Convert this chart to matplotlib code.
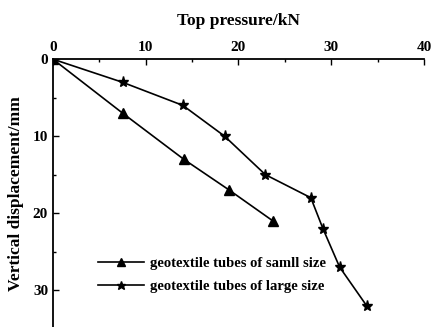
import matplotlib.pyplot as plt

plt.rcParams['font.family'] = 'Liberation Serif'
plt.rcParams['font.weight'] = 'bold'

small_x = [0, 7.5, 14.1, 19.0, 23.7]
small_y = [0, 7, 13, 17, 21]
large_x = [0, 7.5, 14.0, 18.5, 22.9, 27.8, 29.1, 30.9, 33.8]
large_y = [0, 3, 6, 10, 15, 18, 22, 27, 32]

fig = plt.figure(figsize=(4.34, 3.27), dpi=100)
ax = fig.add_axes([0.122, -0.005, 0.855, 0.824])

ax.plot(small_x, small_y, color='black', lw=1.2, marker='^', ms=7,
        label='geotextile tubes of samll size')
ax.plot(large_x, large_y, color='black', lw=1.2, marker='*', ms=8,
        label='geotextile tubes of large size')

ax.set_xlim(0, 40)
ax.set_ylim(35, 0)
ax.xaxis.tick_top()
ax.xaxis.set_label_position('top')
ax.set_xticks([0, 10, 20, 30, 40])
ax.set_xticks([5, 15, 25, 35], minor=True)
ax.set_yticks([0, 10, 20, 30])
ax.set_yticks([5, 15, 25], minor=True)
ax.tick_params(direction='in', labelsize=11, width=1, length=4)
ax.tick_params(which='minor', direction='in', width=1, length=2.5)
for s in ['right', 'bottom']:
    ax.spines[s].set_visible(False)
for s in ['left', 'top']:
    ax.spines[s].set_linewidth(1.3)

ax.set_xlabel('Top pressure/kN', fontsize=12.5, fontweight='bold', labelpad=12)
ax.set_ylabel('Vertical displacement/mm', fontsize=12.5, fontweight='bold', labelpad=6)

ax.legend(loc='lower left', bbox_to_anchor=(0.105, 0.11), frameon=False,
          fontsize=10.5, handlelength=3.2, borderaxespad=0, labelspacing=0.65,
          handletextpad=0.4, markerscale=0.8)

fig.savefig('out.png', dpi=100)
